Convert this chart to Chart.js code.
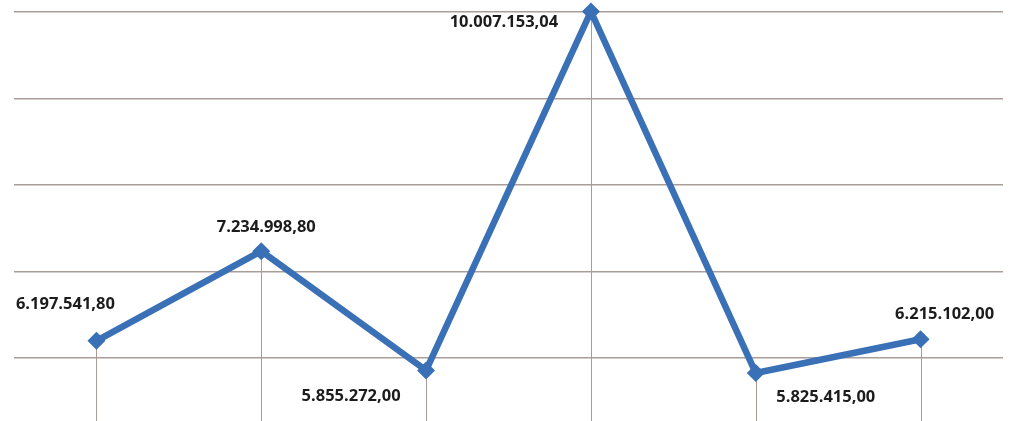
<!DOCTYPE html>
<html>
<head>
<meta charset="utf-8">
<script src="https://cdn.jsdelivr.net/npm/chart.js@4/dist/chart.umd.min.js"></script>
<style>
    html, body { margin: 0; padding: 0; background: #fff; }
    #wrap { width: 1011px; height: 421px; position: relative; }
</style>
</head>
<body>
<div id="wrap"><canvas id="lineChart"></canvas></div>
<script>
// Data
const categories = ['1', '2', '3', '4', '5', '6'];
const values = [6197541.80, 7234998.80, 5855272.00, 10007153.04, 5825415.00, 6215102.00];
const valueLabels = ['6.197.541,80', '7.234.998,80', '5.855.272,00', '10.007.153,04', '5.825.415,00', '6.215.102,00'];
const gridValues = [6000000, 7000000, 8000000, 9000000, 10000000];

// Label placement relative to each point (style, not data)
const labelOffsets = [[-31, -37], [5, -24], [-75, 26], [-87, 11], [70, 24], [24, -25]];

const gridColor = '#a99d99';
const lineColor = '#3a70b6';

// Drop lines from each point down to the bottom
const dropLines = {
    id: 'dropLines',
    beforeDatasetsDraw(chart) {
        const ctx = chart.ctx;
        const meta = chart.getDatasetMeta(0);
        ctx.save();
        ctx.strokeStyle = gridColor;
        ctx.lineWidth = 1;
        meta.data.forEach(function(pt) {
            const x = Math.round(pt.x) + 0.5;
            ctx.beginPath();
            ctx.moveTo(x, pt.y);
            ctx.lineTo(x, chart.chartArea.bottom);
            ctx.stroke();
        });
        ctx.restore();
    }
};

// Value labels next to the points
const valueLabelPlugin = {
    id: 'valueLabels',
    afterDatasetsDraw(chart) {
        const ctx = chart.ctx;
        const meta = chart.getDatasetMeta(0);
        ctx.save();
        ctx.font = 'bold 16.5px "Open Sans", sans-serif';
        ctx.fillStyle = '#1c1c1c';
        ctx.textAlign = 'center';
        ctx.textBaseline = 'middle';
        meta.data.forEach(function(pt, i) {
            const off = labelOffsets[i];
            ctx.fillText(valueLabels[i], pt.x + off[0], pt.y + off[1]);
        });
        ctx.restore();
    }
};

const ctx = document.getElementById('lineChart').getContext('2d');
const lineChart = new Chart(ctx, {
    type: 'line',
    data: {
        labels: categories,
        datasets: [{
            data: values,
            borderColor: lineColor,
            backgroundColor: lineColor,
            borderWidth: 6.5,
            pointStyle: 'rectRot',
            pointRadius: 9,
            pointBorderWidth: 0,
            tension: 0,
            clip: false
        }]
    },
    options: {
        responsive: true,
        maintainAspectRatio: false,
        animation: false,
        layout: { autoPadding: false, padding: { left: 14, right: 8, top: 0, bottom: 0 } },
        plugins: {
            legend: { display: false },
            tooltip: { enabled: false }
        },
        scales: {
            x: {
                display: false,
                offset: true
            },
            y: {
                min: 5270000,
                max: 10140000,
                border: { display: false },
                grid: { color: gridColor, lineWidth: 1.5, drawTicks: false },
                ticks: { display: false },
                afterBuildTicks: function(scale) {
                    scale.ticks = gridValues.map(function(v) { return { value: v }; });
                }
            }
        }
    },
    plugins: [dropLines, valueLabelPlugin]
});
</script>
</body>
</html>
